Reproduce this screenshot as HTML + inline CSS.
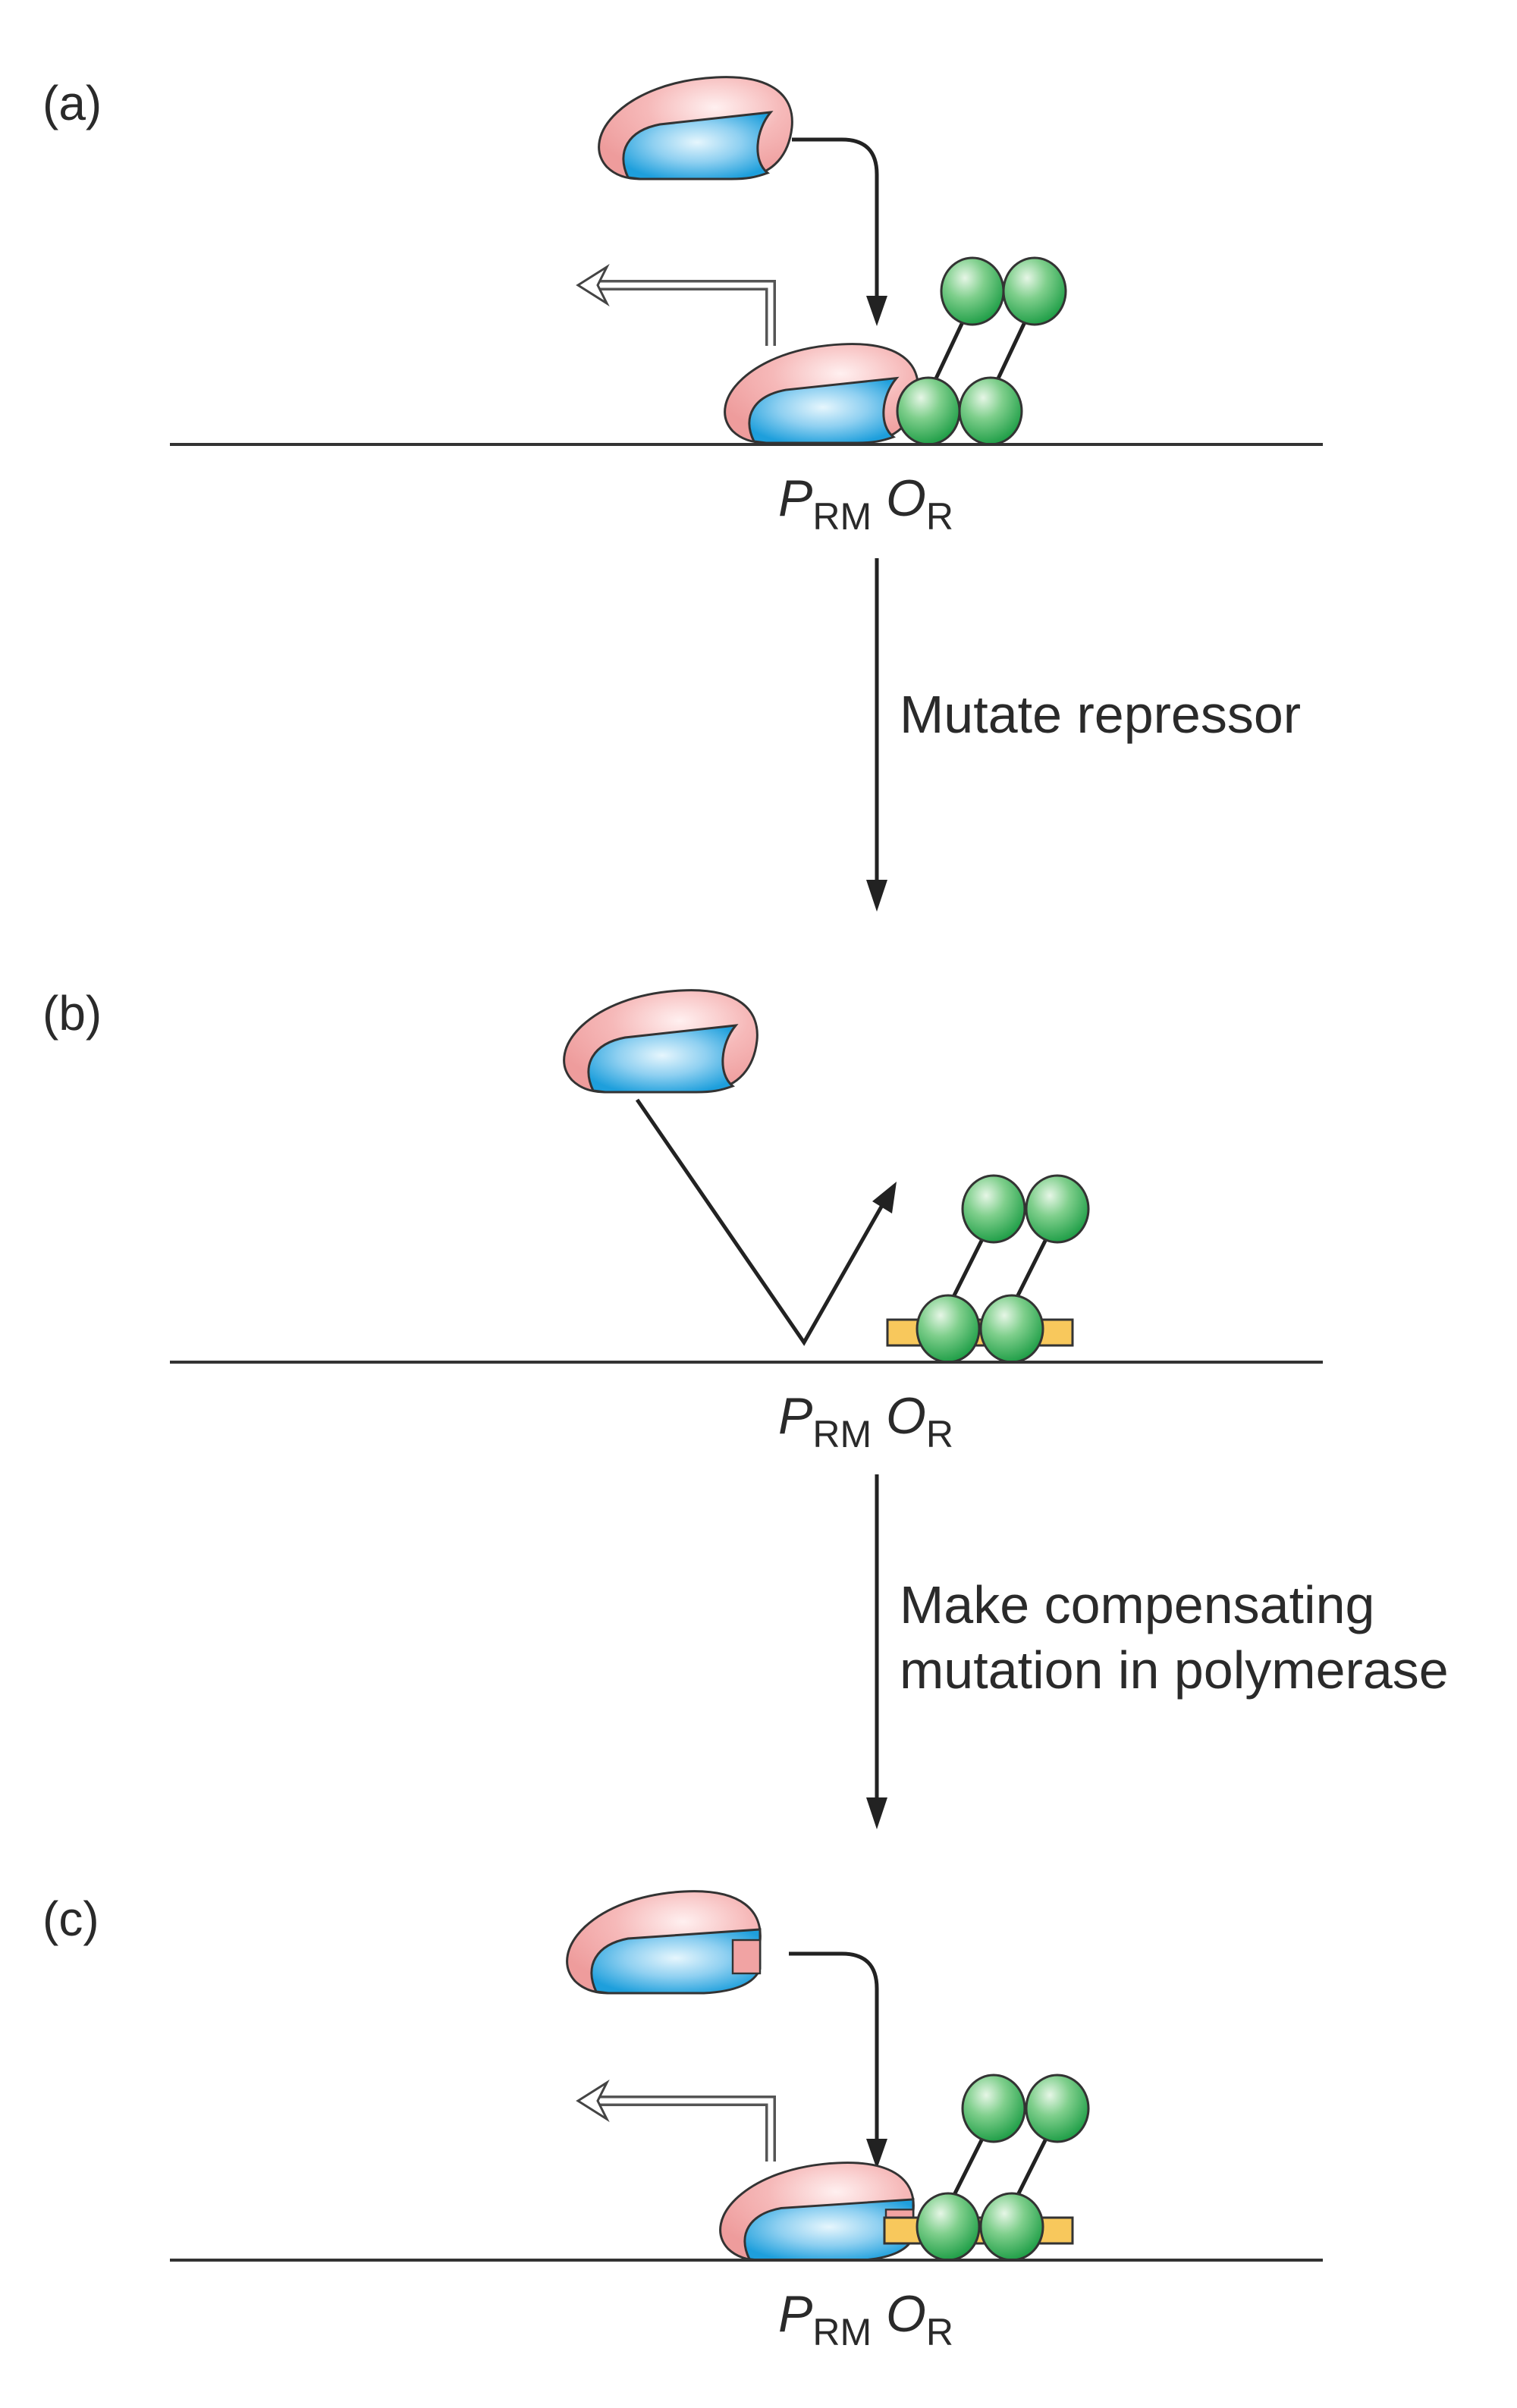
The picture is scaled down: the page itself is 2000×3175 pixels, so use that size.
<!DOCTYPE html>
<html><head><meta charset="utf-8"><style>
html,body{margin:0;padding:0;background:#fff;}
svg{display:block;}
text{font-family:"Liberation Sans",Arial,sans-serif;fill:#2a2a2a;}
</style></head><body>
<svg width="2000" height="3175" viewBox="0 0 1000 1587.5" xmlns="http://www.w3.org/2000/svg">
<defs>
<radialGradient id="pk" cx="0.6" cy="0.3" r="0.7"><stop offset="0" stop-color="#fff0f0"/><stop offset="0.5" stop-color="#f6b9b9"/><stop offset="1" stop-color="#ee9c9c"/></radialGradient>
<radialGradient id="bl" cx="0.5" cy="0.45" r="0.6"><stop offset="0" stop-color="#e6f6fd"/><stop offset="0.5" stop-color="#8fd0f1"/><stop offset="1" stop-color="#1e9fdc"/></radialGradient>
<radialGradient id="gr" cx="0.38" cy="0.3" r="0.7"><stop offset="0" stop-color="#e6f6e6"/><stop offset="0.45" stop-color="#7fcf8c"/><stop offset="1" stop-color="#23a04a"/></radialGradient>
<g id="pol">
 <path d="M10,60 C-8,40 22,4 82,1 C120,-1 134,14 132,34 C130,52 120,64 102,67 L32,68 C22,68 15,65 10,60 Z" fill="url(#pk)" stroke="#333" stroke-width="1.5"/>
 <path d="M24,67 C16,50 24,36 45,32 L118,24 C108,36 106,56 116,64 C108,67 102,68 92,68 L32,68 Z" fill="url(#bl)" stroke="#333" stroke-width="1.5"/>
</g>
<g id="polc">
 <path d="M10,60 C-8,40 22,4 82,1 C120,-1 134,14 132,34 C130,52 120,64 102,67 L32,68 C22,68 15,65 10,60 Z" fill="url(#pk)" stroke="#333" stroke-width="1.5"/>
 <path d="M24,67 C16,50 24,36 45,32 L132,26 L132,52 C128,62 115,67 95,68 L32,68 Z" fill="url(#bl)" stroke="#333" stroke-width="1.5"/>
 <rect x="114" y="33" width="18" height="22" fill="#f1a3a3" stroke="#333" stroke-width="1.2"/>
</g>
<g id="ball"><ellipse cx="0" cy="0" rx="20.5" ry="22" fill="url(#gr)" stroke="#333" stroke-width="1.5"/></g>
</defs>

<!-- Panel a -->
<text x="28" y="79" font-size="32">(a)</text>
<use href="#pol" transform="translate(390,50)"/>
<path d="M522,92 L555,92 Q578,92 578,115 L578,200" fill="none" stroke="#222" stroke-width="2.5"/>
<polygon points="571,195 585,195 578,215" fill="#222"/>
<path d="M508,228 L508,188 L395,188" fill="none" stroke="#555" stroke-width="7"/>
<path d="M508,228 L508,188 L395,188" fill="none" stroke="#fff" stroke-width="3.5"/>
<polygon points="381,188 400,176 394,188 400,200" fill="#fff" stroke="#444" stroke-width="1.5"/>
<line x1="613" y1="258" x2="638" y2="205" stroke="#222" stroke-width="2.5"/>
<line x1="654" y1="258" x2="679" y2="205" stroke="#222" stroke-width="2.5"/>
<use href="#ball" transform="translate(641,192)"/>
<use href="#ball" transform="translate(682,192)"/>
<use href="#pol" transform="translate(473,226) scale(1,0.97)"/>
<use href="#ball" transform="translate(612,271)"/>
<use href="#ball" transform="translate(653,271)"/>
<line x1="112" y1="293" x2="872" y2="293" stroke="#333" stroke-width="2"/>
<text x="513" y="340" font-size="34"><tspan font-style="italic">P</tspan><tspan font-size="25" dy="9">RM</tspan><tspan dy="-9" font-style="italic"> O</tspan><tspan font-size="25" dy="9">R</tspan></text>
<line x1="578" y1="368" x2="578" y2="585" stroke="#222" stroke-width="2.5"/>
<polygon points="571,580 585,580 578,601" fill="#222"/>
<text x="593" y="483" font-size="35">Mutate repressor</text>

<!-- Panel b -->
<text x="28" y="679" font-size="32">(b)</text>
<use href="#pol" transform="translate(367,652)"/>
<polyline points="420,725 530,885 583,792" fill="none" stroke="#222" stroke-width="2.5"/>
<polygon points="591,779 588,800 575,792" fill="#222"/>
<rect x="585" y="870" width="122" height="17" fill="#f8c85c" stroke="#333" stroke-width="1.5"/>
<line x1="626" y1="860" x2="651" y2="810" stroke="#222" stroke-width="2.5"/>
<line x1="668" y1="860" x2="693" y2="810" stroke="#222" stroke-width="2.5"/>
<use href="#ball" transform="translate(655,797)"/>
<use href="#ball" transform="translate(697,797)"/>
<use href="#ball" transform="translate(625,876)"/>
<use href="#ball" transform="translate(667,876)"/>
<line x1="112" y1="898" x2="872" y2="898" stroke="#333" stroke-width="2"/>
<text x="513" y="945" font-size="34"><tspan font-style="italic">P</tspan><tspan font-size="25" dy="9">RM</tspan><tspan dy="-9" font-style="italic"> O</tspan><tspan font-size="25" dy="9">R</tspan></text>
<line x1="578" y1="972" x2="578" y2="1190" stroke="#222" stroke-width="2.5"/>
<polygon points="571,1185 585,1185 578,1206" fill="#222"/>
<text x="593" y="1070" font-size="35">Make compensating</text>
<text x="593" y="1113" font-size="35">mutation in polymerase</text>

<!-- Panel c -->
<text x="28" y="1276" font-size="32">(c)</text>
<use href="#polc" transform="translate(369,1246)"/>
<path d="M520,1288 L555,1288 Q578,1288 578,1311 L578,1415" fill="none" stroke="#222" stroke-width="2.5"/>
<polygon points="571,1410 585,1410 578,1430" fill="#222"/>
<path d="M508,1425 L508,1385 L395,1385" fill="none" stroke="#555" stroke-width="7"/>
<path d="M508,1425 L508,1385 L395,1385" fill="none" stroke="#fff" stroke-width="3.5"/>
<polygon points="381,1385 400,1373 394,1385 400,1397" fill="#fff" stroke="#444" stroke-width="1.5"/>
<use href="#polc" transform="translate(470,1425) scale(1,0.96)"/>
<rect x="583" y="1462" width="124" height="17" fill="#f8c85c" stroke="#333" stroke-width="1.5"/>
<line x1="626" y1="1453" x2="651" y2="1403" stroke="#222" stroke-width="2.5"/>
<line x1="668" y1="1453" x2="693" y2="1403" stroke="#222" stroke-width="2.5"/>
<use href="#ball" transform="translate(655,1390)"/>
<use href="#ball" transform="translate(697,1390)"/>
<use href="#ball" transform="translate(625,1468)"/>
<use href="#ball" transform="translate(667,1468)"/>
<line x1="112" y1="1490" x2="872" y2="1490" stroke="#333" stroke-width="2"/>
<text x="513" y="1537" font-size="34"><tspan font-style="italic">P</tspan><tspan font-size="25" dy="9">RM</tspan><tspan dy="-9" font-style="italic"> O</tspan><tspan font-size="25" dy="9">R</tspan></text>
</svg>
</body></html>
